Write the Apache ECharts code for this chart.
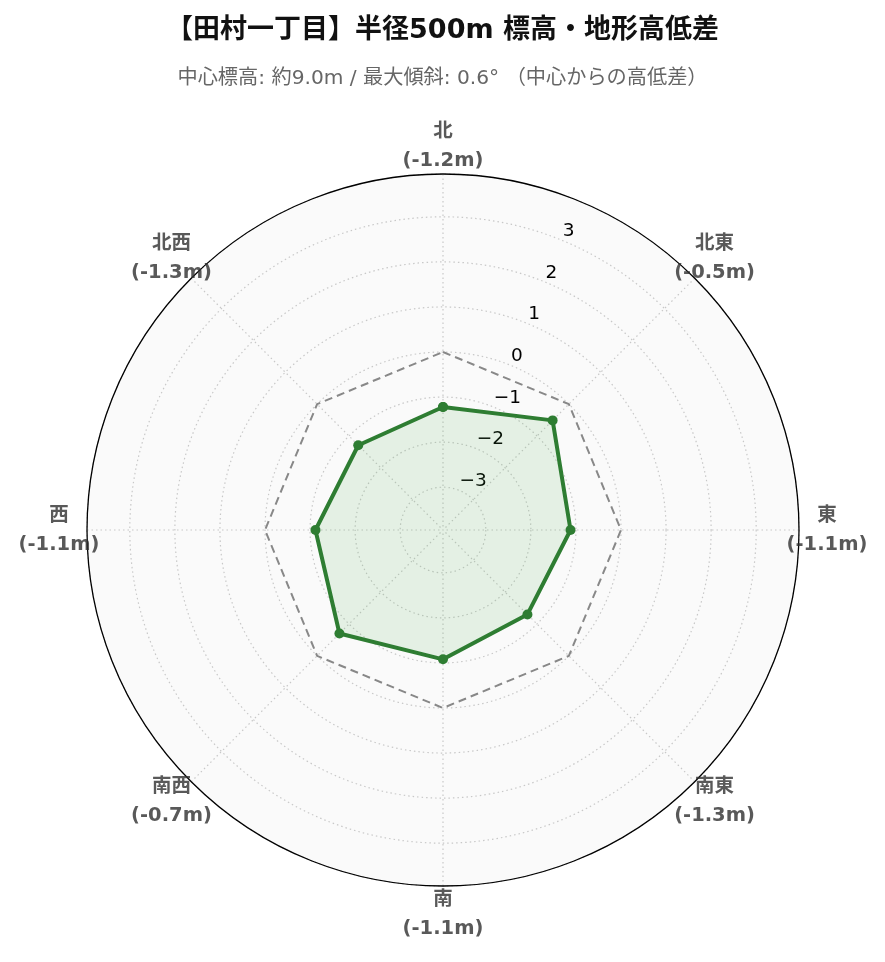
<!DOCTYPE html>
<html>
<head>
<meta charset="utf-8">
<script src="https://cdn.jsdelivr.net/npm/echarts@6/dist/echarts.min.js"></script>
<style>
html,body{margin:0;padding:0;background:#fff;}
#chart{width:885px;height:962px;}
</style>
</head>
<body>
<div id="chart"></div>
<script>
const titleText = '【田村一丁目】半径500m 標高・地形高低差';
const subtitleText = '中心標高: 約9.0m / 最大傾斜: 0.6° （中心からの高低差）';
const directions = ['北', '北東', '東', '南東', '南', '南西', '西', '北西'];
const directionAngles = [0, 45, 90, 135, 180, 225, 270, 315];
const elevDiff = [-1.22, -0.51, -1.12, -1.30, -1.08, -0.70, -1.12, -1.29];
const diffLabels = ['-1.2', '-0.5', '-1.1', '-1.3', '-1.1', '-0.7', '-1.1', '-1.3'];
const zeroRef = [0, 0, 0, 0, 0, 0, 0, 0];
const radialTicks = [-3, -2, -1, 0, 1, 2, 3];
const radiusMin = -3.95;
const radiusMax = 3.95;

const FONT = '"DejaVu Sans", "Noto Sans CJK JP", sans-serif';
const CENTER = [443, 530];

function closed(vals) {
  const d = vals.map((v, i) => [v, directionAngles[i]]);
  d.push([vals[0], 360]);
  return d;
}

const hiddenAngle = {type: 'value', min: 0, max: 360, startAngle: 90, clockwise: true,
  axisLine: {show: false}, axisTick: {show: false}, axisLabel: {show: false}, splitLine: {show: false}};
const hiddenRadius = {axisLine: {show: false}, axisTick: {show: false}, axisLabel: {show: false}, splitLine: {show: false}};

const chart = echarts.init(document.getElementById('chart'), null, {renderer: 'canvas'});
const option = {
  backgroundColor: '#ffffff',
  animation: false,
  textStyle: {fontFamily: FONT},
  title: [
    {text: titleText, left: 'center', top: 12,
     textStyle: {fontFamily: FONT, fontSize: 27, fontWeight: 'bold', color: '#111111'}},
    {text: subtitleText, left: 'center', top: 64,
     textStyle: {fontFamily: FONT, fontSize: 20.2, fontWeight: 'normal', color: '#666666'}}
  ],
  polar: [
    {center: CENTER, radius: 356},
    {center: CENTER, radius: 356},
    {center: CENTER, radius: 356},
    {center: CENTER, radius: 384}
  ],
  angleAxis: [
    Object.assign({}, hiddenAngle, {polarIndex: 0, z: 0}),
    {polarIndex: 1, type: 'value', min: 0, max: 360, interval: 45, startAngle: 90, clockwise: true, z: 1,
     axisLine: {show: true, lineStyle: {color: '#000000', width: 1.3}},
     axisTick: {show: false}, axisLabel: {show: false},
     splitLine: {show: true, lineStyle: {color: '#c8c8c8', type: [1.5, 3], width: 1.2}}},
    Object.assign({}, hiddenAngle, {polarIndex: 2, startAngle: 67.5}),
    Object.assign({}, hiddenAngle, {polarIndex: 3})
  ],
  radiusAxis: [
    Object.assign({}, hiddenRadius, {polarIndex: 0, type: 'value', min: radiusMin, max: radiusMax, z: 0,
     splitArea: {show: true, areaStyle: {color: ['#fafafa']}}}),
    Object.assign({}, hiddenRadius, {polarIndex: 1, type: 'value', min: radiusMin, max: radiusMax, splitNumber: 8, z: 1,
     splitLine: {show: true, lineStyle: {color: '#c8c8c8', type: [1.5, 3], width: 1.2}}}),
    Object.assign({}, hiddenRadius, {polarIndex: 2, type: 'value', min: radiusMin, max: radiusMax, splitNumber: 8, z: 3,
     axisLabel: {show: true, margin: 0, rotate: 0, align: 'left', verticalAlign: 'bottom',
       fontFamily: FONT, fontSize: 18.5, color: '#000000',
       formatter: function (v) {
         const r = Math.round(v);
         if (Math.abs(v - r) > 1e-6 || radialTicks.indexOf(r) < 0) return '';
         return r < 0 ? '\u2212' + Math.abs(r) : String(r);
       }}}),
    Object.assign({}, hiddenRadius, {polarIndex: 3, type: 'value', min: 0, max: 1})
  ],
  series: [
    {type: 'line', coordinateSystem: 'polar', polarIndex: 1, data: closed(zeroRef),
     symbol: 'none', silent: true,
     lineStyle: {color: '#888888', width: 2, type: [8, 5]}, z: 3},
    {type: 'line', coordinateSystem: 'polar', polarIndex: 1, data: closed(elevDiff),
     symbol: 'circle', symbolSize: 10, showSymbol: true,
     itemStyle: {color: '#2e7d32'},
     lineStyle: {color: '#2e7d32', width: 4},
     areaStyle: {color: 'rgba(76,175,80,0.18)', origin: 'start'}, z: 4},
    {type: 'scatter', coordinateSystem: 'polar', polarIndex: 3, clip: false,
     data: directions.map((d, i) => [1, directionAngles[i]]),
     symbolSize: 0, silent: true,
     label: {show: true, position: 'inside',
       formatter: function (p) {
         return '{n|' + directions[p.dataIndex] + '}\n{v|(' + diffLabels[p.dataIndex] + 'm)}';
       },
       rich: {
         n: {fontFamily: FONT, fontSize: 19.5, fontWeight: 'bold', color: '#303030', lineHeight: 29, align: 'center'},
         v: {fontFamily: FONT, fontSize: 19.5, fontWeight: 'bold', color: '#303030', lineHeight: 29, align: 'center'}
       }}}
  ]
};
chart.setOption(option);
</script>
</body>
</html>
